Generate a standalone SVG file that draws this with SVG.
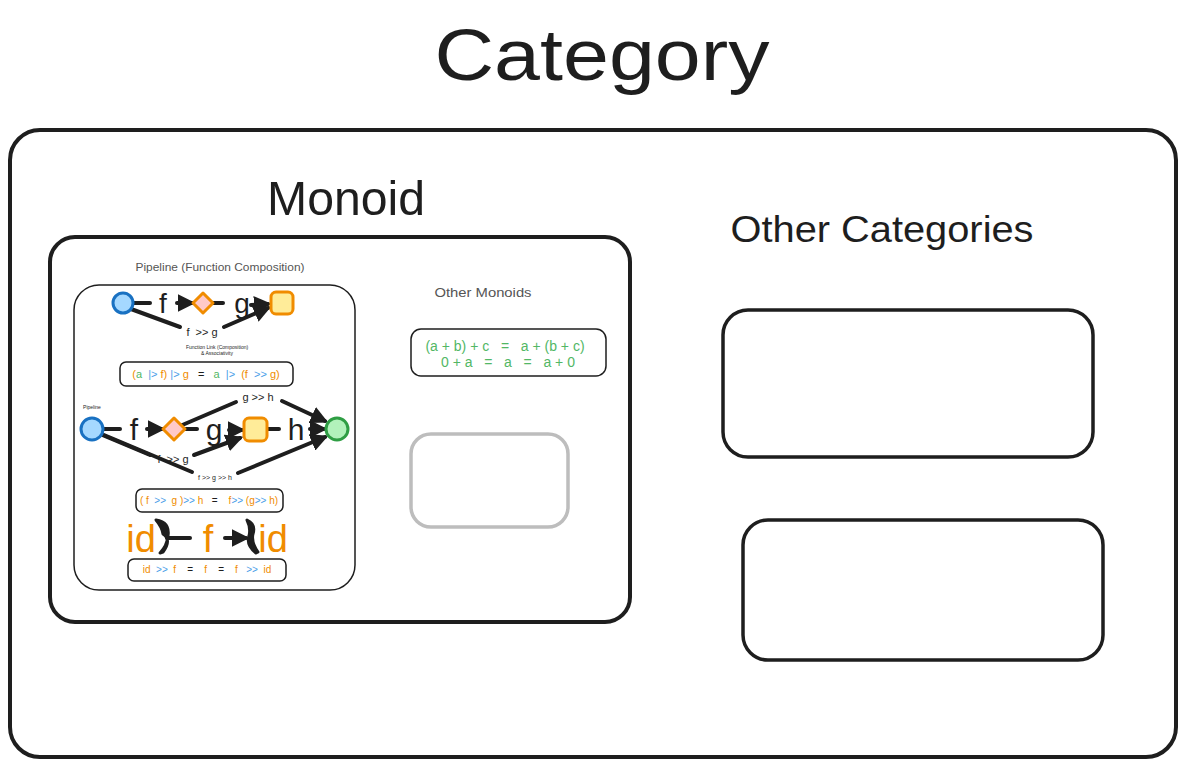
<svg xmlns="http://www.w3.org/2000/svg" width="1186" height="766" viewBox="0 0 1186 766">
<defs>
<style>
.box{fill:none;stroke:#1e1e1e;stroke-linejoin:round}
.hand{font-family:"Liberation Sans","DejaVu Sans",sans-serif;fill:#1e1e1e}
.t{font-family:"Liberation Sans",Arial,sans-serif}
.con{fill:none;stroke:#1e1e1e;stroke-width:4;stroke-linecap:round}
.o{fill:#f08c00}.b{fill:#4a9ee8}.g{fill:#52b765}.k{fill:#1e1e1e}
</style>
<marker id="ah" viewBox="0 0 10 10" refX="8" refY="5" markerWidth="4.4" markerHeight="4.4" orient="auto" markerUnits="strokeWidth">
<path d="M0,0 L10,5 L0,10 z" fill="#1e1e1e"/>
</marker>
</defs>
<rect width="1186" height="766" fill="#ffffff"/>

<g id="category">
<text class="hand" x="602" y="80" font-size="72" text-anchor="middle" textLength="335" lengthAdjust="spacingAndGlyphs">Category</text>
<rect class="box" x="10" y="130" width="1166" height="627" rx="30" stroke-width="4"/>
</g>

<g id="monoid">
<text class="hand" x="346" y="215" font-size="48" text-anchor="middle" textLength="158" lengthAdjust="spacingAndGlyphs">Monoid</text>
<rect class="box" x="50" y="237" width="580" height="385" rx="25" stroke-width="4"/>
</g>

<g id="other-categories">
<text class="hand" x="882" y="242" font-size="36" text-anchor="middle" textLength="303" lengthAdjust="spacingAndGlyphs">Other Categories</text>
<rect class="box" x="723" y="310" width="370" height="147" rx="25" stroke-width="3.5"/>
<rect class="box" x="743" y="520" width="360" height="140" rx="25" stroke-width="3.5"/>
</g>

<g id="other-monoids">
<text class="hand" x="483" y="297" font-size="13" text-anchor="middle" style="fill:#555" textLength="97" lengthAdjust="spacingAndGlyphs">Other Monoids</text>
<rect class="box" x="411" y="329" width="195" height="47" rx="10" stroke-width="1.5"/>
<text class="t g" x="505" y="351" font-size="14" text-anchor="middle" xml:space="preserve">(a + b) + c   =   a + (b + c)</text>
<text class="t g" x="508" y="367" font-size="14" text-anchor="middle" xml:space="preserve">0 + a   =   a   =   a + 0</text>
<rect class="box" x="411" y="434" width="157" height="93" rx="20" stroke-width="3.5" style="stroke:#bdbdbd"/>
</g>

<g id="pipeline">
<text class="hand" x="220" y="271" font-size="11.5" text-anchor="middle" style="fill:#555" textLength="169" lengthAdjust="spacingAndGlyphs">Pipeline (Function Composition)</text>
<rect class="box" x="74" y="285" width="281" height="305" rx="25" stroke-width="1.5"/>
<text class="hand" x="217" y="349" font-size="5" text-anchor="middle">Function Link (Composition)</text>
<text class="hand" x="217" y="355" font-size="5" text-anchor="middle">&amp; Associativity</text>
<text class="hand" x="92" y="409" font-size="5" text-anchor="middle">Pipeline</text>
</g>

<g id="connectors">
<!-- row 1 -->
<path class="con" d="M133,303 L150,303"/>
<path class="con" d="M177,303 L192,303" marker-end="url(#ah)"/>
<path class="con" d="M212,303 L223,303"/>
<path class="con" d="M251,305 L268,304" marker-end="url(#ah)"/>
<path class="con" d="M131,309 L180,327"/>
<path class="con" d="M224,327 L268,308" marker-end="url(#ah)"/>
<!-- row 2 -->
<path class="con" d="M103,429 L120,429"/>
<path class="con" d="M147,429 L162,429" marker-end="url(#ah)"/>
<path class="con" d="M185,429 L197,429"/>
<path class="con" d="M229,430 L242,430" marker-end="url(#ah)"/>
<path class="con" d="M267,429 L279,429"/>
<path class="con" d="M310,429 L324,429" marker-end="url(#ah)"/>
<path class="con" d="M180,426 L236,402"/>
<path class="con" d="M282,401 L325,421" marker-end="url(#ah)"/>
<path class="con" d="M100,434 L150,455"/>
<path class="con" d="M194,455 L240,438" marker-end="url(#ah)"/>
<path class="con" d="M104,435 L192,472"/>
<path class="con" d="M238,473 L325,437" marker-end="url(#ah)"/>
<!-- row 3 -->
<path class="con" d="M167,538 L190,538"/>
<path d="M156,520 Q170,522 168,536 Q167,546 160,553 L163,552 Q172,540 163,534 Q162,527 156,520 z" fill="#1e1e1e" stroke="#1e1e1e" stroke-width="3" stroke-linejoin="round"/>
<path class="con" d="M225,538 L246,538" marker-end="url(#ah)"/>
<path d="M247,520 Q256,524 253,534 Q251,542 258,552 L256,553 Q246,545 249,536 Q251,528 247,520 z" fill="#1e1e1e" stroke="#1e1e1e" stroke-width="3" stroke-linejoin="round"/>
</g>

<g id="row1-nodes">
<circle cx="123" cy="303" r="10" fill="#a5d8ff" stroke="#1971c2" stroke-width="3"/>
<text class="t k" x="163" y="313" font-size="28" text-anchor="middle">f</text>
<path d="M203,293 L213,303 L203,313 L193,303 z" fill="#ffc9c9" stroke="#f08c00" stroke-width="3" stroke-linejoin="round"/>
<text class="t k" x="242" y="313" font-size="28" text-anchor="middle">g</text>
<rect x="271" y="292" width="22" height="22" rx="5" fill="#ffec99" stroke="#f08c00" stroke-width="3"/>
<text class="t k" x="202" y="336" font-size="11" text-anchor="middle" xml:space="preserve">f  &gt;&gt; g</text>
</g>

<g id="assoc-eq">
<rect class="box" x="120" y="362" width="173" height="24" rx="6" stroke-width="1.5"/>
<text class="t" x="206" y="378" font-size="11" text-anchor="middle" xml:space="preserve"><tspan class="o">(</tspan><tspan class="g">a</tspan>  <tspan class="b">|&gt;</tspan> <tspan class="o">f)</tspan> <tspan class="b">|&gt;</tspan> <tspan class="o">g</tspan>   <tspan class="k">=</tspan>   <tspan class="g">a</tspan>  <tspan class="b">|&gt;</tspan>  <tspan class="o">(f</tspan>  <tspan class="b">&gt;&gt;</tspan> <tspan class="o">g)</tspan></text>
</g>

<g id="row2-nodes">
<circle cx="92" cy="429" r="11" fill="#a5d8ff" stroke="#1971c2" stroke-width="3"/>
<text class="t k" x="134" y="440" font-size="30" text-anchor="middle">f</text>
<path d="M174,418 L185,429 L174,440 L163,429 z" fill="#ffc9c9" stroke="#f08c00" stroke-width="3" stroke-linejoin="round"/>
<text class="t k" x="214" y="440" font-size="30" text-anchor="middle">g</text>
<rect x="244" y="418" width="23" height="23" rx="5" fill="#ffec99" stroke="#f08c00" stroke-width="3"/>
<text class="t k" x="296" y="440" font-size="30" text-anchor="middle">h</text>
<circle cx="337" cy="429" r="11" fill="#b2f2bb" stroke="#2f9e44" stroke-width="3"/>
<text class="t k" x="258" y="401" font-size="11" text-anchor="middle">g &gt;&gt; h</text>
<text class="t k" x="173" y="463" font-size="11" text-anchor="middle" xml:space="preserve">f  &gt;&gt; g</text>
<text class="t k" x="215" y="480" font-size="7" text-anchor="middle">f &gt;&gt; g &gt;&gt; h</text>
</g>

<g id="assoc-eq2">
<rect class="box" x="136" y="489" width="147" height="23" rx="6" stroke-width="1.5"/>
<text class="t" x="209" y="504" font-size="10" text-anchor="middle" xml:space="preserve"><tspan class="o">( f</tspan>  <tspan class="b">&gt;&gt;</tspan>  <tspan class="o">g )</tspan><tspan class="b">&gt;&gt;</tspan> <tspan class="o">h</tspan>   <tspan class="k">=</tspan>    <tspan class="o">f</tspan><tspan class="b">&gt;&gt;</tspan> <tspan class="o">(g</tspan><tspan class="b">&gt;&gt;</tspan> <tspan class="o">h)</tspan></text>
</g>

<g id="row3-nodes">
<text class="t o" x="141" y="552" font-size="38" text-anchor="middle">id</text>
<text class="t o" x="208" y="552" font-size="38" text-anchor="middle">f</text>
<text class="t o" x="273" y="552" font-size="38" text-anchor="middle">id</text>
</g>

<g id="identity-eq">
<rect class="box" x="128" y="559" width="158" height="22" rx="6" stroke-width="1.5"/>
<text class="t" x="207" y="573" font-size="10" text-anchor="middle" xml:space="preserve"><tspan class="o">id</tspan>  <tspan class="b">&gt;&gt;</tspan>  <tspan class="o">f</tspan>    <tspan class="k">=</tspan>    <tspan class="o">f</tspan>    <tspan class="k">=</tspan>    <tspan class="o">f</tspan>   <tspan class="b">&gt;&gt;</tspan>  <tspan class="o">id</tspan></text>
</g>
</svg>
